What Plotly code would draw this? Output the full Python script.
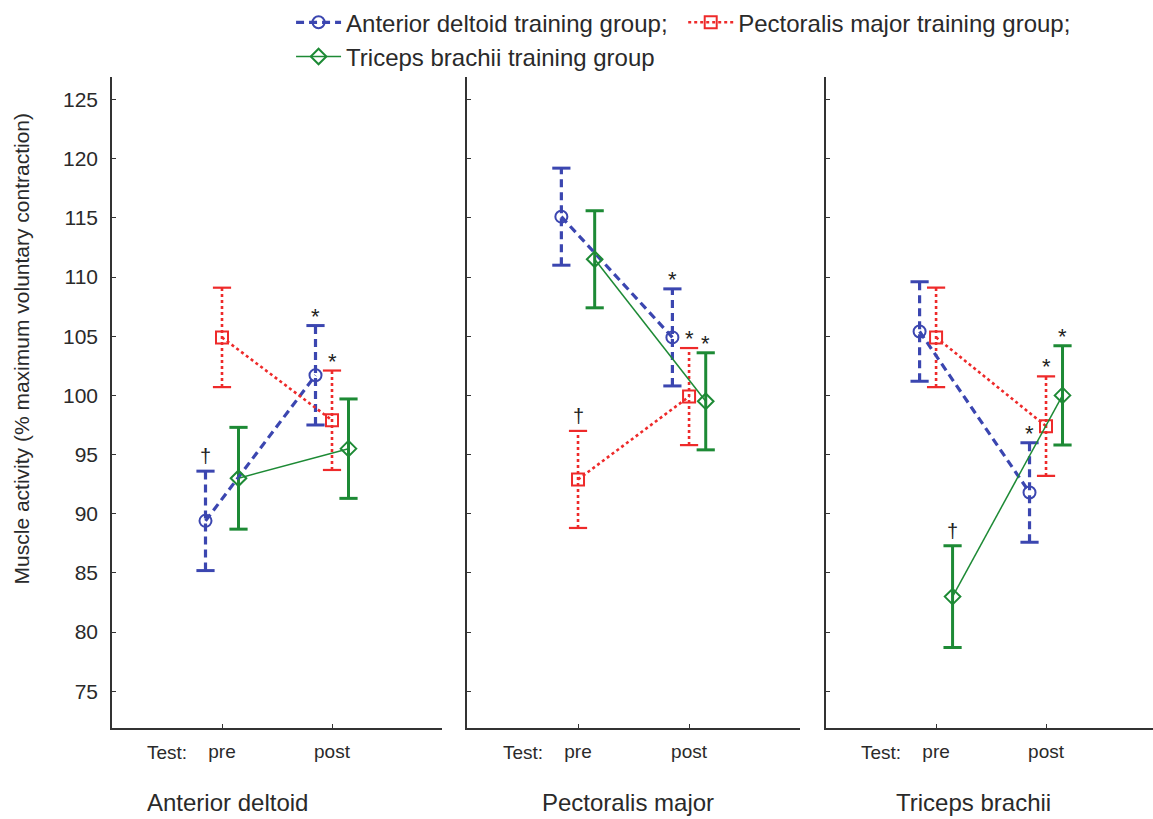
import plotly.graph_objects as go

# ---------------- data ----------------
muscles = ["Anterior deltoid", "Pectoralis major", "Triceps brachii"]
tests = ["pre", "post"]
groups = ["Anterior deltoid training group;", "Pectoralis major training group;",
          "Triceps brachii training group"]

# means per panel (muscle) : [pre, post]
ad_mean = [[89.4, 101.7], [115.1, 104.9], [105.4, 91.8]]
pm_mean = [[104.9, 97.9], [92.9, 99.9], [104.9, 97.4]]
tb_mean = [[93.0, 95.5], [111.5, 99.5], [83.0, 100.0]]

ad_err = [[4.2, 4.2], [4.1, 4.1], [4.2, 4.2]]
pm_err = [[4.2, 4.2], [4.1, 4.1], [4.2, 4.2]]
tb_err = [[4.3, 4.2], [4.1, 4.1], [4.3, 4.2]]

# significance marks: panel index, group index, test index, symbol
sig_panel = [0, 0, 0, 1, 1, 1, 1, 2, 2, 2, 2]
sig_group = [0, 0, 1, 1, 0, 1, 2, 2, 0, 1, 2]
sig_test = [0, 1, 1, 0, 1, 1, 1, 0, 1, 1, 1]
sig_symbol = ["†", "*", "*", "†", "*", "*", "*", "†", "*", "*", "*"]

# ---------------- style ----------------
colors = ["#3b46b0", "#ee2a2a", "#1d8a35"]
markers = ["circle-open", "square-open", "diamond-open"]
offsets = [-0.15, 0.0, 0.15]
conn_dash = ["8px,5px", "3px,3px", "solid"]
conn_width = [3.2, 2.6, 1.5]
err_dash = ["8px,5px", "3px,3px", "solid"]
err_width = [3.2, 2.6, 3.0]
means = [ad_mean, pm_mean, tb_mean]
errs = [ad_err, pm_err, tb_err]

FONT = "Arial, Liberation Sans, sans-serif"
TXT = "#2a2a2a"

fig = go.Figure()
for p in range(3):
    xa = "x" if p == 0 else f"x{p+1}"
    ya = "y" if p == 0 else f"y{p+1}"
    for g in range(3):
        xs = [t + 1 + offsets[g] for t in range(len(tests))]
        m = means[g][p]
        e = errs[g][p]
        lo = [m[i] - e[i] for i in range(2)]
        hi = [m[i] + e[i] for i in range(2)]
        # error bar stems
        ex, ey = [], []
        for i in range(2):
            ex += [xs[i], xs[i], None]
            ey += [lo[i], hi[i], None]
        fig.add_trace(go.Scatter(x=ex, y=ey, mode="lines", xaxis=xa, yaxis=ya,
                                 line=dict(color=colors[g], width=err_width[g], dash=err_dash[g]),
                                 showlegend=False, hoverinfo="skip"))
        # caps
        fig.add_trace(go.Scatter(x=[xs[0], xs[0], xs[1], xs[1]], y=[lo[0], hi[0], lo[1], hi[1]],
                                 mode="markers", xaxis=xa, yaxis=ya,
                                 marker=dict(symbol="line-ew", size=13,
                                             line=dict(color=colors[g], width=3 if g != 1 else 2.2)),
                                 showlegend=False, hoverinfo="skip"))
    for g in range(3):
        xs = [t + 1 + offsets[g] for t in range(len(tests))]
        fig.add_trace(go.Scatter(x=xs, y=means[g][p], mode="lines+markers", xaxis=xa, yaxis=ya,
                                 name=groups[g], showlegend=(p == 0),
                                 line=dict(color=colors[g], width=conn_width[g], dash=conn_dash[g]),
                                 marker=dict(symbol=markers[g], size=12, color=colors[g],
                                             line=dict(width=2, color=colors[g]))))

# significance annotations
for k in range(len(sig_symbol)):
    p, g, t = sig_panel[k], sig_group[k], sig_test[k]
    top = means[g][p][t] + errs[g][p][t]
    xa = "x" if p == 0 else f"x{p+1}"
    ya = "y" if p == 0 else f"y{p+1}"
    star = sig_symbol[k] == "*"
    fig.add_annotation(x=t + 1 + offsets[g], y=top, xref=xa, yref=ya,
                       text=sig_symbol[k], showarrow=False, yanchor="bottom",
                       yshift=-5 if star else 2,
                       font=dict(size=22 if star else 20, color="#222222", family=FONT))

# ---------------- layout ----------------
domains = [[0.0, 0.317], [0.341, 0.661], [0.686, 1.0]]
xranges = [[0, 3], [0, 3], [0, 2.973]]
title_x = [1.05, 1.45, 1.34]
axis_common = dict(showline=True, linecolor="#333333", linewidth=1.5, ticks="inside",
                   ticklen=4, tickcolor="#333333", showgrid=False, zeroline=False)

lay = dict(width=1153, height=819, plot_bgcolor="white", paper_bgcolor="white",
           margin=dict(l=112, r=0, t=75, b=91), font=dict(family=FONT, color=TXT))
for p in range(3):
    sx = "" if p == 0 else str(p + 1)
    lay["xaxis" + sx] = dict(axis_common, domain=domains[p], range=xranges[p],
                             tickvals=[1, 2, 3], ticktext=tests + [""],
                             tickfont=dict(size=19, family=FONT, color=TXT),
                             ticklabelstandoff=5, anchor="y" + sx)
    lay["yaxis" + sx] = dict(axis_common, range=[71.9, 126.9], tickvals=list(range(75, 126, 5)),
                             showticklabels=(p == 0), tickfont=dict(size=21, family=FONT, color=TXT),
                             ticklabelstandoff=8, anchor="x" + sx)
fig.update_layout(**lay)

for p in range(3):
    xa = "x" if p == 0 else f"x{p+1}"
    fig.add_annotation(x=0.5, y=-0.037, xref=xa, yref="paper", text="Test:", showarrow=False,
                       yanchor="middle", font=dict(size=19, color=TXT, family=FONT))
    fig.add_annotation(x=title_x[p], y=-0.115, xref=xa, yref="paper", text=muscles[p],
                       showarrow=False, yanchor="middle", font=dict(size=24, color=TXT, family=FONT))

fig.add_annotation(x=-0.0865, y=0.583, xref="paper", yref="paper", textangle=-90,
                   text="Muscle activity (% maximum voluntary contraction)", showarrow=False,
                   xanchor="center", font=dict(size=21, color=TXT, family=FONT))

fig.update_layout(legend=dict(orientation="h", x=0.172, y=1.118, xanchor="left", yanchor="top",
                              font=dict(size=24, family=FONT, color=TXT), itemwidth=45,
                              bgcolor="rgba(0,0,0,0)"))

fig.write_html("out.html")
